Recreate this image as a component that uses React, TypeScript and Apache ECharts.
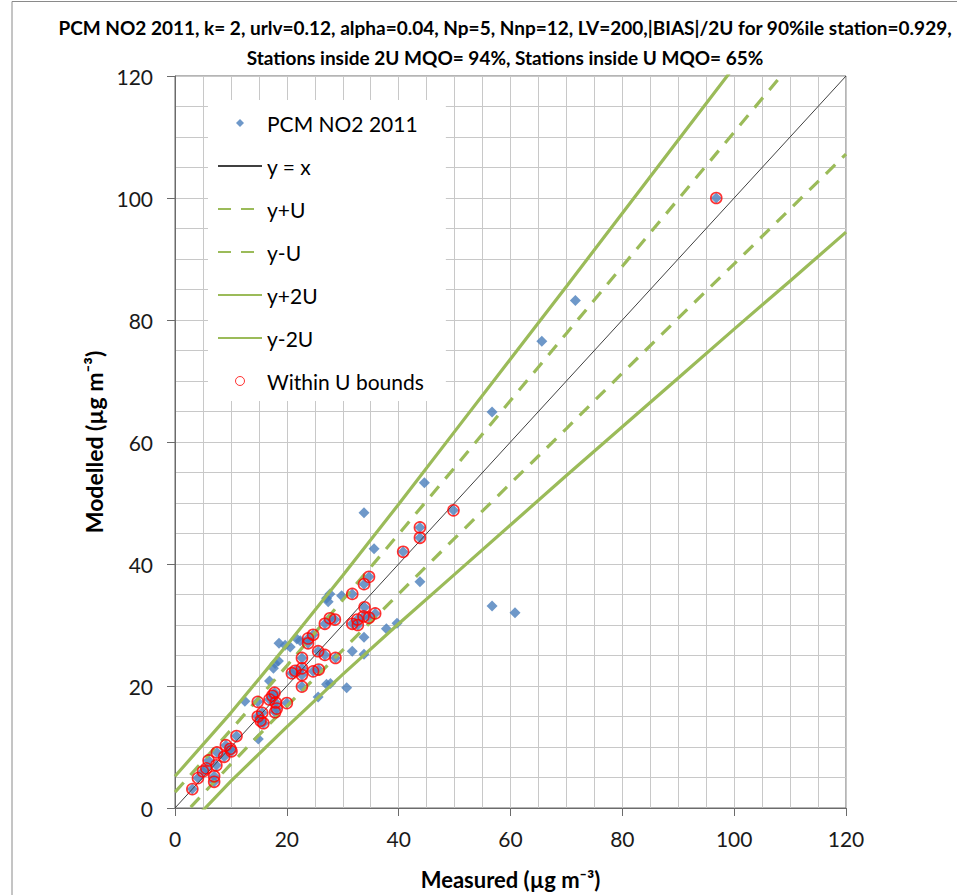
import React, { useEffect, useRef } from "react";
import * as echarts from "echarts";

// Station annual means (µg m-3)
const measured = [
  3.1, 4.1, 5.0, 5.6, 6.0, 7.0, 7.0, 7.4, 7.5, 8.8,
  9.1, 9.9, 10.1, 11.0, 14.9, 12.5, 14.8, 14.8, 15.3, 15.8,
  15.6, 16.9, 17.4, 17.8, 18.0, 18.2, 17.9, 20.0, 16.9, 20.9,
  21.5, 22.7, 22.7, 22.7, 22.7, 24.7, 25.7, 17.6, 17.9, 18.5,
  18.6, 19.7, 20.6, 21.8, 22.4, 23.8, 23.8, 24.7, 25.6, 26.8,
  28.7, 25.6, 27.1, 27.8, 30.7, 26.8, 27.7, 28.6, 27.1, 27.7,
  27.4, 29.8, 31.7, 31.7, 32.7, 32.6, 33.7, 34.7, 35.8, 33.9,
  33.8, 34.7, 31.7, 33.8, 33.8, 37.8, 39.7, 33.8, 35.6, 40.8,
  43.8, 43.8, 43.8, 44.6, 49.8, 56.7, 60.8, 56.7, 65.6, 71.6,
  96.8,
];
const modelled = [
  3.1, 4.9, 6.0, 6.5, 7.8, 5.2, 4.3, 7.0, 9.1, 8.4,
  10.3, 9.7, 9.3, 11.8, 11.3, 17.5, 17.4, 15.0, 14.3, 13.9,
  15.6, 17.8, 18.4, 18.9, 17.3, 16.3, 15.7, 17.2, 20.8, 22.1,
  22.5, 19.9, 21.8, 22.9, 24.6, 22.4, 22.7, 22.9, 23.7, 24.1,
  27.0, 26.7, 26.4, 27.7, 27.4, 27.0, 27.8, 28.4, 25.7, 25.1,
  24.6, 18.2, 20.3, 20.4, 19.7, 30.2, 31.1, 30.9, 34.4, 35.1,
  33.8, 34.8, 35.1, 30.2, 30.0, 30.9, 31.4, 31.2, 31.9, 32.9,
  36.7, 37.9, 25.7, 25.2, 28.0, 29.4, 30.3, 48.4, 42.5, 42.0,
  46.0, 44.3, 37.1, 53.3, 48.8, 33.1, 32.0, 64.9, 76.5, 83.2,
  100.0,
];
// 1 = circled in red (within U bounds)
const insideU = [
  1, 1, 1, 1, 1, 1, 1, 1, 1, 1,
  1, 1, 1, 1, 0, 0, 1, 1, 1, 1,
  1, 1, 1, 1, 1, 1, 1, 1, 0, 1,
  1, 1, 1, 1, 1, 1, 1, 0, 0, 0,
  0, 0, 0, 0, 0, 1, 1, 1, 1, 1,
  1, 0, 0, 0, 0, 1, 1, 1, 0, 0,
  0, 0, 1, 1, 1, 1, 1, 1, 1, 1,
  1, 1, 0, 0, 0, 0, 0, 0, 0, 1,
  1, 1, 0, 0, 1, 0, 0, 0, 0, 0,
  1,
];

// Uncertainty band lines
const lineX = [0, 10, 20, 30, 40, 50, 60, 70, 80, 90, 100, 110, 120];
const yEqualsX = [0, 10, 20, 30, 40, 50, 60, 70, 80, 90, 100, 110, 120];
const yPlusU = [2.6, 12.8, 23.3, 34.1, 44.9, 55.8, 66.8, 77.8, 88.8, 99.8, 110.8, 121.8, 132.8];
const yMinusU = [-2.6, 7.2, 16.7, 25.9, 35.1, 44.2, 53.2, 62.2, 71.3, 80.3, 89.2, 98.2, 107.2];
const yPlus2U = [5.2, 15.6, 26.7, 38.1, 49.8, 61.7, 73.6, 85.5, 97.5, 109.5, 121.5, 133.6, 145.6];
const yMinus2U = [-5.2, 4.4, 13.3, 21.9, 30.2, 38.3, 46.4, 54.5, 62.5, 70.5, 78.5, 86.4, 94.4];

const axisTicks = [0, 20, 40, 60, 80, 100, 120];

const titleLines = [
  "PCM NO2 2011, k= 2, urlv=0.12, alpha=0.04, Np=5, Nnp=12, LV=200,|BIAS|/2U for 90%ile station=0.929,",
  "Stations inside 2U MQO= 94%, Stations inside U MQO= 65%",
];

const FONT = "Lato, 'Open Sans', 'DejaVu Sans', sans-serif";
const GREEN = "#9BBB59";
const BLUE = "#4A7EBB";
const GRID_COLOR = "#C8C8C8";
const AXIS_COLOR = "#6b6b6b";

export default function App() {
  const ref = useRef<HTMLDivElement>(null);

  useEffect(() => {
    if (!ref.current) return;
    const chart = echarts.init(ref.current, null, { renderer: "svg" });

    const allPts = measured.map((m, i) => [m, modelled[i]]);
    const inPts = allPts.filter((_, i) => insideU[i] === 1);
    const mk = (ys: number[]) => lineX.map((x, i) => [x, ys[i]]);

    const axisCommon = {
      type: "value",
      min: axisTicks[0],
      max: axisTicks[axisTicks.length - 1],
      interval: axisTicks[1] - axisTicks[0],
      axisLine: { show: true, lineStyle: { color: AXIS_COLOR, width: 1 } },
      axisTick: { show: true, length: 8, lineStyle: { color: AXIS_COLOR } },
      splitLine: { show: true, lineStyle: { color: GRID_COLOR, width: 1 } },
      minorTick: { show: false, splitNumber: 4 },
      minorSplitLine: { show: true, lineStyle: { color: GRID_COLOR, width: 1 } },
      nameLocation: "middle",
      nameTextStyle: { fontFamily: FONT, fontSize: 22, fontWeight: "bold", color: "#000" },
    };

    const diamondIcon = "path://M0,0M44,14M22,3L26,7L22,11L18,7Z";
    const circleIcon = "path://M0,0M44,14M26.5,7A4.5,4.5,0,1,1,17.5,7A4.5,4.5,0,1,1,26.5,7Z";
    const noSymbol = { itemStyle: { opacity: 0 } };

    const option: any = {
      animation: false,
      backgroundColor: "#ffffff",
      title: {
        text: titleLines.join("\n"),
        left: 500,
        top: 7,
        textAlign: "center",
        textStyle: {
          fontFamily: FONT,
          fontSize: 19,
          fontWeight: "bold",
          color: "#000",
          lineHeight: 30,
        },
      },
      grid: {
        left: 175,
        right: 111,
        top: 76,
        bottom: 85,
        show: true,
        borderColor: AXIS_COLOR,
        borderWidth: 1,
        backgroundColor: "transparent",
      },
      xAxis: {
        ...axisCommon,
        name: "Measured (µg m\u207B\u00B3)",
        nameGap: 60,
        axisLabel: { fontFamily: FONT, fontSize: 21, color: "#1a1a1a", margin: 20 },
      },
      yAxis: {
        ...axisCommon,
        name: "Modelled (µg m\u207B\u00B3)",
        nameGap: 66,
        nameTextStyle: { fontFamily: FONT, fontSize: 23, fontWeight: "bold", color: "#000" },
        axisLabel: { fontFamily: FONT, fontSize: 21, color: "#1a1a1a", margin: 22 },
      },
      legend: {
        orient: "vertical",
        left: 208,
        top: 100,
        itemWidth: 44,
        itemHeight: 14,
        itemGap: 21,
        padding: [12, 22, 9, 9],
        backgroundColor: "#ffffff",
        textStyle: { fontFamily: FONT, fontSize: 21, color: "#000", lineHeight: 22 },
        data: [
          { name: "PCM NO2 2011", icon: diamondIcon, itemStyle: { color: BLUE } },
          { name: "y = x", ...noSymbol },
          { name: "y+U", ...noSymbol },
          { name: "y-U", ...noSymbol },
          { name: "y+2U", ...noSymbol },
          { name: "y-2U", ...noSymbol },
          {
            name: "Within U bounds",
            icon: circleIcon,
            itemStyle: { color: "rgba(0,0,0,0)", borderColor: "#FF0000", borderWidth: 1 },
          },
        ],
      },
      graphic: [
        {
          type: "rect",
          silent: true,
          z: -10,
          shape: { x: 12, y: 1.5, width: 1200, height: 1200 },
          style: { fill: "none", stroke: "#8a8a8a", lineWidth: 1 },
        },
      ],
      series: [
        {
          name: "PCM NO2 2011",
          type: "scatter",
          symbol: "diamond",
          symbolSize: 11,
          itemStyle: { color: BLUE },
          data: allPts,
          z: 2,
        },
        {
          name: "y = x",
          type: "line",
          symbol: "none",
          showSymbol: false,
          data: mk(yEqualsX),
          itemStyle: { color: "#404040" },
          lineStyle: { color: "#404040", width: 1 },
          z: 3,
        },
        {
          name: "y+U",
          type: "line",
          symbol: "none",
          showSymbol: false,
          data: mk(yPlusU),
          itemStyle: { color: GREEN },
          lineStyle: { color: GREEN, width: 3.2, type: [13, 10] },
          z: 3,
        },
        {
          name: "y-U",
          type: "line",
          symbol: "none",
          showSymbol: false,
          data: mk(yMinusU),
          itemStyle: { color: GREEN },
          lineStyle: { color: GREEN, width: 3.2, type: [13, 10] },
          z: 3,
        },
        {
          name: "y+2U",
          type: "line",
          symbol: "none",
          showSymbol: false,
          data: mk(yPlus2U),
          itemStyle: { color: GREEN },
          lineStyle: { color: GREEN, width: 3.2 },
          z: 3,
        },
        {
          name: "y-2U",
          type: "line",
          symbol: "none",
          showSymbol: false,
          data: mk(yMinus2U),
          itemStyle: { color: GREEN },
          lineStyle: { color: GREEN, width: 3.2 },
          z: 3,
        },
        {
          name: "Within U bounds",
          type: "scatter",
          symbol: "circle",
          symbolSize: 11,
          itemStyle: { color: "rgba(0,0,0,0)", borderColor: "#FF0000", borderWidth: 1.6 },
          data: inPts,
          z: 4,
        },
      ],
    };

    chart.setOption(option);
    return () => chart.dispose();
  }, []);

  return (
    <div
      ref={ref}
      style={{ position: "absolute", left: 0, top: 0, width: 957, height: 895, background: "#fff" }}
    />
  );
}
